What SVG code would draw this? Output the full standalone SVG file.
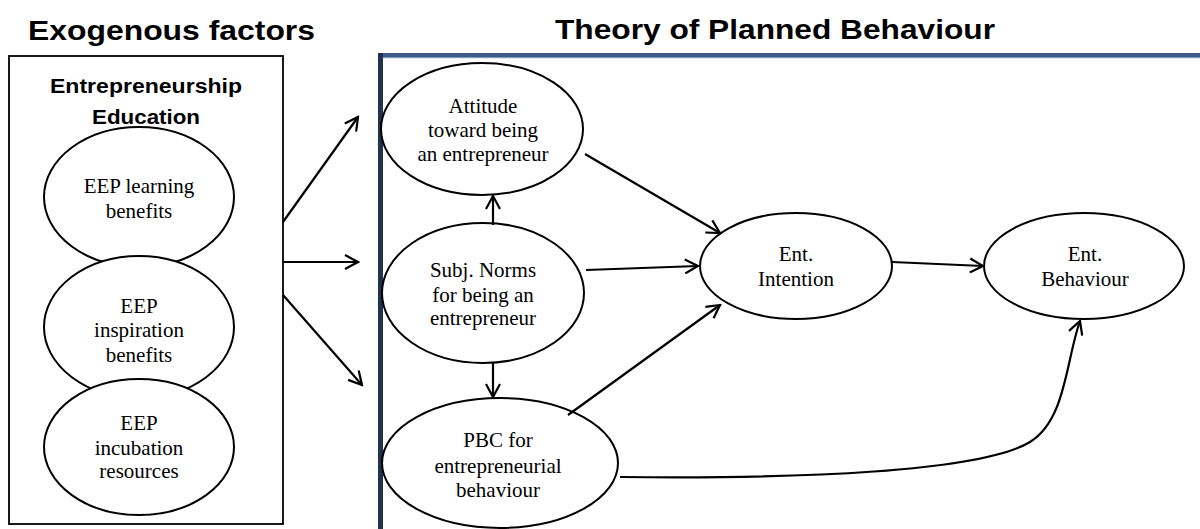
<svg xmlns="http://www.w3.org/2000/svg" width="1200" height="529" viewBox="0 0 1200 529">
<defs>
<style>
.title{font-family:"Liberation Sans",Arial,sans-serif;font-weight:bold;font-size:28px;fill:#000}
.sub{font-family:"Liberation Sans",Arial,sans-serif;font-weight:bold;font-size:20px;fill:#000}
.lbl{font-family:"Liberation Serif","Times New Roman",serif;font-size:21px;fill:#000;text-anchor:middle}
.node{fill:#fff;stroke:#000;stroke-width:2}
.edge{fill:none;stroke:#000;stroke-width:2.2}
</style>
<marker id="arr" viewBox="0 0 16 16" refX="14" refY="8" markerWidth="16" markerHeight="16" markerUnits="userSpaceOnUse" orient="auto">
<path d="M1,1 L14,8 L1,15" fill="none" stroke="#000" stroke-width="2.2"/>
</marker>
</defs>
<rect width="1200" height="529" fill="#fff"/>
<text class="title" x="28" y="40" textLength="287" lengthAdjust="spacingAndGlyphs">Exogenous factors</text>
<text class="title" x="555" y="39" textLength="440" lengthAdjust="spacingAndGlyphs">Theory of Planned Behaviour</text>

<g id="tpb-frame">
<rect x="378" y="53" width="822" height="5" fill="#3b5b86"/>
<rect x="383" y="57" width="817" height="1.2" fill="#7f9cc0"/>
<rect x="378" y="53" width="5" height="476" fill="#1f3250"/>
</g>

<g id="exo-box">
<rect x="9" y="56" width="274" height="468" fill="#fff" stroke="#000" stroke-width="1.8"/>
<text class="sub" x="146" y="93" text-anchor="middle" textLength="192" lengthAdjust="spacingAndGlyphs">Entrepreneurship</text>
<text class="sub" x="146" y="124" text-anchor="middle" textLength="108" lengthAdjust="spacingAndGlyphs">Education</text>
</g>

<g id="eep-learning">
<ellipse class="node" cx="139" cy="197" rx="95" ry="70"/>
<text class="lbl" x="139" y="193">EEP learning</text>
<text class="lbl" x="139" y="218">benefits</text>
</g>
<g id="eep-inspiration">
<ellipse class="node" cx="139" cy="327" rx="95" ry="71"/>
<text class="lbl" x="139" y="313">EEP</text>
<text class="lbl" x="139" y="337">inspiration</text>
<text class="lbl" x="139" y="362">benefits</text>
</g>
<g id="eep-incubation">
<ellipse class="node" cx="139" cy="447" rx="95" ry="68"/>
<text class="lbl" x="139" y="430">EEP</text>
<text class="lbl" x="139" y="455">incubation</text>
<text class="lbl" x="139" y="478">resources</text>
</g>

<g id="attitude">
<ellipse class="node" cx="482" cy="129" rx="101" ry="66"/>
<text class="lbl" x="483" y="113">Attitude</text>
<text class="lbl" x="483" y="137">toward being</text>
<text class="lbl" x="483" y="161">an entrepreneur</text>
</g>
<g id="subj-norms">
<ellipse class="node" cx="483" cy="293" rx="101" ry="70"/>
<text class="lbl" x="483" y="277">Subj. Norms</text>
<text class="lbl" x="483" y="302">for being an</text>
<text class="lbl" x="483" y="325">entrepreneur</text>
</g>
<g id="pbc">
<ellipse class="node" cx="500" cy="463" rx="118" ry="65"/>
<text class="lbl" x="498" y="447">PBC for</text>
<text class="lbl" x="498" y="473">entrepreneurial</text>
<text class="lbl" x="498" y="497">behaviour</text>
</g>
<g id="intention">
<ellipse class="node" cx="796" cy="266" rx="96" ry="53"/>
<text class="lbl" x="796" y="261">Ent.</text>
<text class="lbl" x="796" y="286">Intention</text>
</g>
<g id="behaviour">
<ellipse class="node" cx="1084" cy="266" rx="100" ry="53"/>
<text class="lbl" x="1085" y="261">Ent.</text>
<text class="lbl" x="1085" y="286">Behaviour</text>
</g>

<g id="connectors">
<line class="edge" x1="283" y1="222" x2="358" y2="117" marker-end="url(#arr)"/>
<line class="edge" x1="283" y1="262" x2="358" y2="262" marker-end="url(#arr)"/>
<line class="edge" x1="283" y1="295" x2="362" y2="385" marker-end="url(#arr)"/>
<line class="edge" x1="493" y1="225" x2="493" y2="196" marker-end="url(#arr)"/>
<line class="edge" x1="493" y1="363" x2="493" y2="397" marker-end="url(#arr)"/>
<line class="edge" x1="585" y1="154" x2="720" y2="233" marker-end="url(#arr)"/>
<line class="edge" x1="586" y1="270" x2="698" y2="266" marker-end="url(#arr)"/>
<line class="edge" x1="568" y1="415" x2="720" y2="305" marker-end="url(#arr)"/>
<line class="edge" x1="892" y1="262" x2="983" y2="266" marker-end="url(#arr)"/>
<path class="edge" d="M620,477 C800,479 980,472 1030,442 C1066,420 1066,360 1080,321" marker-end="url(#arr)"/>
</g>
</svg>
